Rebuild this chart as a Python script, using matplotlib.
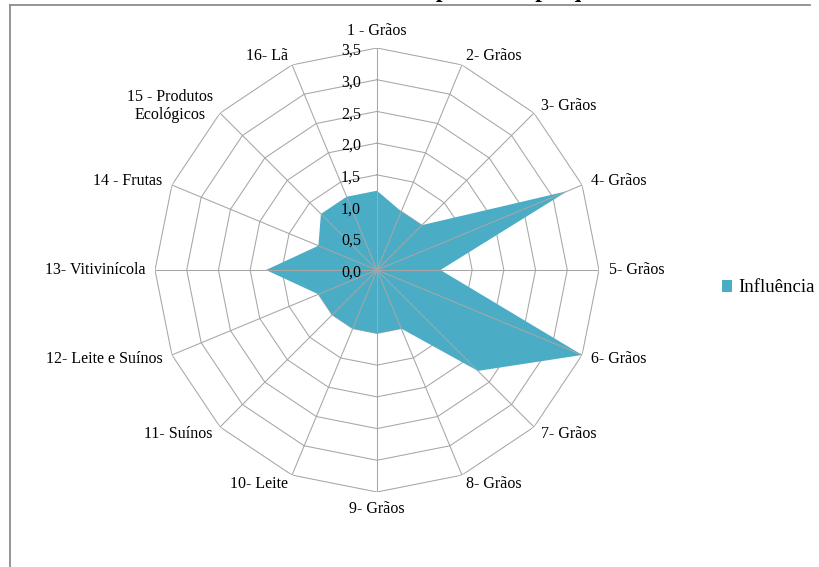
import numpy as np
import matplotlib
matplotlib.use("Agg")
import matplotlib.pyplot as plt
from matplotlib.lines import Line2D
from matplotlib.patches import Patch
from matplotlib.transforms import offset_copy

plt.rcParams["font.family"] = ["Liberation Serif", "DejaVu Serif"]

# Categorias (cooperativas) e grau de influência
categorias = [
    "1 - Grãos", "2- Grãos", "3- Grãos", "4- Grãos", "5- Grãos", "6- Grãos",
    "7- Grãos", "8- Grãos", "9- Grãos", "10- Leite", "11- Suínos",
    "12- Leite e Suínos", "13- Vitivinícola", "14 - Frutas",
    "15 - Produtos\nEcológicos", "16- Lã",
]
influencia = [1.25, 1.0, 1.0, 3.25, 1.0, 3.5, 2.25, 1.0,
              1.0, 1.0, 1.0, 1.0, 1.75, 1.0, 1.25, 1.25]
niveis = [0.0, 0.5, 1.0, 1.5, 2.0, 2.5, 3.0, 3.5]
rotulos_niveis = ["0,0", "0,5", "1,0", "1,5", "2,0", "2,5", "3,0", "3,5"]
titulo = "Grau de Influência das cooperativas pesquisadas"

AZUL = "#4BACC6"
CINZA = "#A6A6A6"

W, H = 820, 567
fig = plt.figure(figsize=(W / 100, H / 100), dpi=100)

# centro do radar e raio externo em pixels
cx, cy, rad = 377, 270, 222
ax = fig.add_axes([(cx - rad) / W, (H - cy - rad) / H, 2 * rad / W, 2 * rad / H],
                  projection="polar")
ax.set_theta_zero_location("N")
ax.set_theta_direction(-1)
ax.set_ylim(0, niveis[-1])
ax.grid(False)
ax.spines["polar"].set_visible(False)
ax.set_xticks([])
ax.set_yticks([])
ax.patch.set_alpha(0)

n = len(categorias)
ang = np.arange(n) * 2 * np.pi / n
ang_f = np.append(ang, ang[0])

# anéis poligonais
for nv in niveis[1:]:
    ax.plot(ang_f, [nv] * (n + 1), color=CINZA, lw=0.75, zorder=1)

# série preenchida
vals = np.append(influencia, influencia[0])
ax.fill(ang_f, vals, color=AZUL, zorder=2, lw=0)

# raios por cima do preenchimento
for a in ang:
    ax.plot([a, a], [0, niveis[-1]], color=CINZA, lw=0.75, zorder=3)

# rótulos do eixo de valores
tr = offset_copy(ax.transData, fig=fig, x=-11.5, y=-2, units="points")
for nv, rot in zip(niveis, rotulos_niveis):
    ax.text(0, nv, rot, transform=tr, ha="right", va="center", fontsize=11.5)

# rótulos das categorias
r_lab = niveis[-1] * 1.045
for a, cat in zip(ang, categorias):
    deg = np.degrees(a)
    if np.isclose(deg, 0):
        ha, va, r = "center", "bottom", niveis[-1] * 1.04
    elif np.isclose(deg, 180):
        ha, va, r = "center", "top", niveis[-1] * 1.04
    elif deg < 180:
        ha, va, r = "left", "center", r_lab
    else:
        ha, va, r = "right", "center", r_lab
    ax.text(a, r, cat, ha=ha, va=va, fontsize=11.5, multialignment="center")

# legenda
fig.legend(handles=[Patch(facecolor=AZUL, edgecolor="none", label="Influência")],
           loc="center left", bbox_to_anchor=(722 / W, 1 - 288 / H),
           frameon=False, fontsize=13.5, handlelength=0.55, handleheight=0.55,
           handletextpad=0.3, borderpad=0, borderaxespad=0)

# título (cortado na borda superior)
fig.text(410 / W, 1 + 3 / H, titulo, ha="center", va="baseline",
         fontsize=17, fontweight="bold")

# moldura
fig.add_artist(Line2D([10.5 / W, 810 / W], [1 - 5 / H, 1 - 5 / H],
                      color="#8C8C8C", lw=1.3, transform=fig.transFigure))
fig.add_artist(Line2D([10.5 / W, 10.5 / W], [0, 1 - 5 / H],
                      color="#8C8C8C", lw=1.3, transform=fig.transFigure))

fig.savefig("out.png", dpi=100)
